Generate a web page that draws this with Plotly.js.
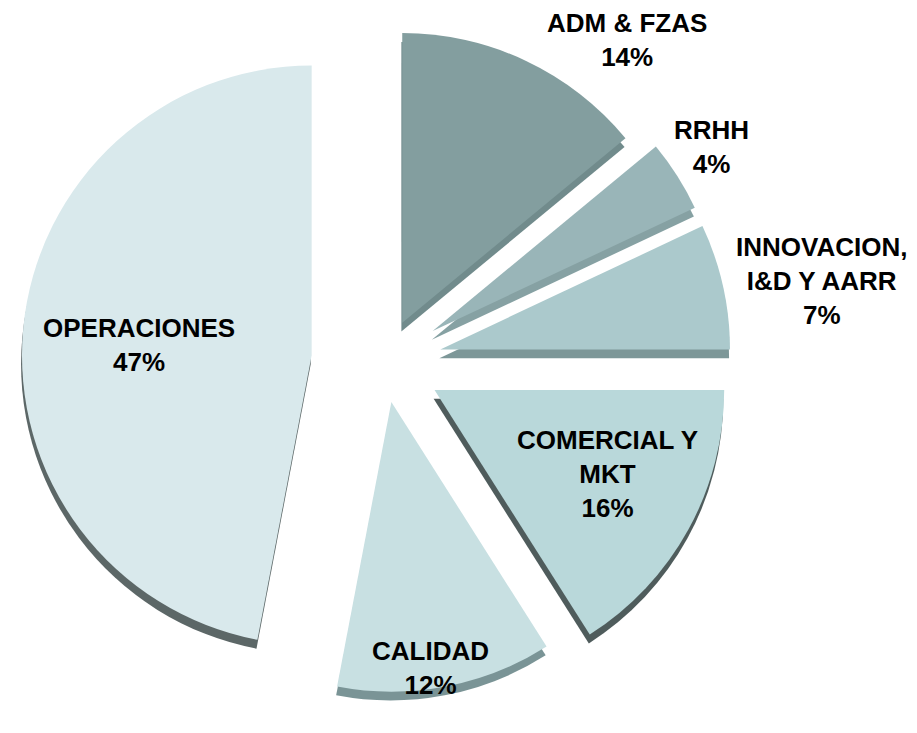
<!DOCTYPE html>
<html>
<head>
<meta charset="utf-8">
<script src="https://cdn.plot.ly/plotly-3.0.1.min.js"></script>
<style>
  html, body { margin: 0; padding: 0; background: #ffffff; }
  #chart { width: 917px; height: 733px; }
</style>
</head>
<body>
<div id="chart"></div>
<script>
// ---- data ----
const labels = ['ADM & FZAS', 'RRHH', 'INNOVACION, I&D Y AARR', 'COMERCIAL Y MKT', 'CALIDAD', 'OPERACIONES'];
const labelLines = ['ADM & FZAS', 'RRHH', 'INNOVACION,<br>I&D Y AARR', 'COMERCIAL Y<br>MKT', 'CALIDAD', 'OPERACIONES'];
const values = [14, 4, 7, 16, 12, 47];

// ---- styles ----
const faceColors = ['#839e9f', '#99b5b8', '#abc9cc', '#b9d8da', '#c8e0e2', '#d9e9ec'];
const rimColors  = ['#718b8c', '#86a1a3', '#7d9798', '#4f5c5c', '#7a9496', '#5c6767'];
const pulls = [0.15, 0.2, 0.2, 0.2, 0.14, 0.25];
// label centre positions (paper fractions)
const labelPos = [
  [0.684, 0.945], [0.776, 0.800], [0.896, 0.617],
  [0.663, 0.353], [0.470, 0.089], [0.152, 0.529]
];

const total = values.reduce((a, b) => a + b, 0);

const common = {
  type: 'pie',
  labels: labels,
  values: values,
  sort: false,
  direction: 'clockwise',
  rotation: 0,
  pull: pulls,
  textinfo: 'none',
  hoverinfo: 'label+percent',
  showlegend: false
};

const rim = Object.assign({}, common, {
  marker: { colors: rimColors, line: { width: 0 } },
  domain: { x: [0.0, 0.835], y: [0.0, 0.988] },
  hoverinfo: 'skip'
});

const face = Object.assign({}, common, {
  marker: { colors: faceColors, line: { width: 0 } },
  domain: { x: [0.001, 0.836], y: [0.012, 1.0] }
});

const annotations = labels.map((l, i) => ({
  xref: 'paper', yref: 'paper',
  x: labelPos[i][0], y: labelPos[i][1],
  xanchor: 'center', yanchor: 'middle',
  showarrow: false,
  align: 'center',
  text: labelLines[i] + '<br>' + Math.round(values[i] / total * 100) + '%',
  font: { family: 'Liberation Sans, Arial, sans-serif', size: 26, color: '#000000', weight: 'bold' }
}));

const layout = {
  width: 917,
  height: 733,
  margin: { l: 0, r: 0, t: 0, b: 0 },
  paper_bgcolor: '#ffffff',
  plot_bgcolor: '#ffffff',
  showlegend: false,
  annotations: annotations
};

Plotly.newPlot('chart', [rim, face], layout, { displayModeBar: false, staticPlot: true });
</script>
</body>
</html>
